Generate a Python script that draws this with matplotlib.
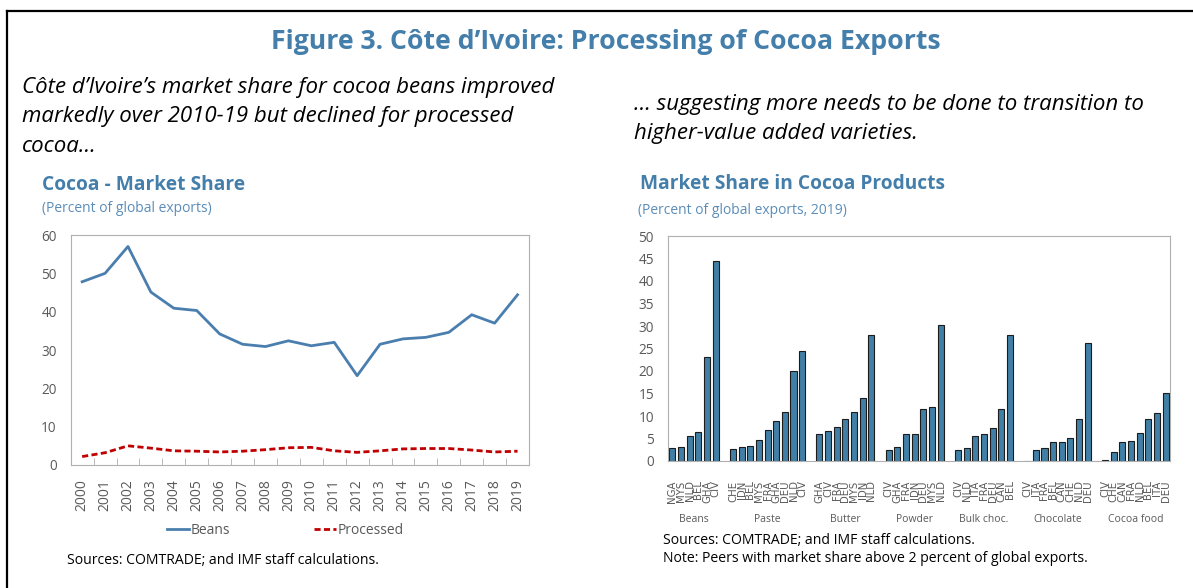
import matplotlib
matplotlib.use("Agg")
import matplotlib.pyplot as plt
from matplotlib.lines import Line2D
import numpy as np

# left panel: Cote d'Ivoire market share, 2000-2019
years = [str(y) for y in range(2000, 2020)]
beans = [47.8, 50.0, 57.0, 45.1, 40.9, 40.3, 34.2, 31.5, 30.9, 32.4,
         31.1, 32.0, 23.3, 31.5, 32.9, 33.3, 34.6, 39.2, 37.0, 44.4]
processed = [2.2, 3.2, 5.0, 4.4, 3.7, 3.6, 3.4, 3.6, 4.0, 4.5,
             4.6, 3.7, 3.3, 3.7, 4.2, 4.3, 4.3, 3.9, 3.4, 3.6]

# right panel: market share by product, 2019
products = ["Beans", "Paste", "Butter", "Powder", "Bulk choc.", "Chocolate", "Cocoa food"]
countries = [
    ["NGA", "MYS", "NLD", "BEL", "GHA", "CIV"],
    ["CHE", "IDN", "BEL", "MYS", "FRA", "GHA", "DEU", "NLD", "CIV"],
    ["GHA", "CIV", "FRA", "DEU", "MYS", "IDN", "NLD"],
    ["CIV", "GHA", "FRA", "IDN", "DEU", "MYS", "NLD"],
    ["CIV", "NLD", "ITA", "FRA", "DEU", "CAN", "BEL"],
    ["CIV", "ITA", "FRA", "BEL", "CAN", "CHE", "NLD", "DEU"],
    ["CIV", "CHE", "CAN", "FRA", "NLD", "BEL", "ITA", "DEU"],
]
shares = [
    [3.0, 3.2, 5.5, 6.5, 23.1, 44.5],
    [2.6, 3.1, 3.3, 4.6, 7.0, 9.0, 10.8, 20.1, 24.4],
    [6.0, 6.6, 7.6, 9.3, 10.9, 13.9, 28.0],
    [2.4, 3.1, 5.9, 6.1, 11.6, 12.0, 30.2],
    [2.4, 3.0, 5.6, 6.1, 7.3, 11.6, 28.1],
    [0.1, 2.5, 2.8, 4.2, 4.3, 5.1, 9.4, 26.3],
    [0.15, 2.1, 4.2, 4.4, 6.3, 9.4, 10.7, 15.2],
]

W, H = 1193, 588
BLUE = "#447EAA"
LIGHTBLUE = "#5B8DB8"
GREY = "#595959"
SPINE = "#B0B0B0"
FONT = ["Open Sans", "DejaVu Sans"]
NARROW = ["Liberation Sans Narrow", "DejaVu Sans"]

plt.rcParams["font.family"] = FONT


def px(x, y):
    return x / W, 1 - y / H


def box(l, t, r, b):
    return [l / W, 1 - b / H, (r - l) / W, (b - t) / H]


fig = plt.figure(figsize=(W / 100, H / 100), dpi=100)

# frame
fig.add_artist(Line2D([7 / W, 1], [1 - 11 / H] * 2, color="black", lw=1.6))
fig.add_artist(Line2D([7 / W] * 2, [0, 1 - 11 / H], color="black", lw=1.6))

fig.text(*px(606, 42), "Figure 3. Côte d\u2019Ivoire: Processing of Cocoa Exports",
         ha="center", va="center", fontsize=19.2, fontweight="bold", color=BLUE)

fig.text(*px(22, 77), "Côte d\u2019Ivoire\u2019s market share for cocoa beans improved\n"
         "markedly over 2010-19 but declined for processed\ncocoa\u2026",
         ha="left", va="top", fontsize=16, style="italic", color="black", linespacing=1.53)
fig.text(*px(634, 94), "\u2026 suggesting more needs to be done to transition to\n"
         "higher-value added varieties.",
         ha="left", va="top", fontsize=16, style="italic", color="black", linespacing=1.53)

fig.text(*px(42, 185), "Cocoa - Market Share", ha="left", va="center",
         fontsize=13.8, fontweight="bold", color=BLUE)
fig.text(*px(42, 209), "(Percent of global exports)", ha="left", va="center",
         fontsize=10, color=LIGHTBLUE)
fig.text(*px(640, 184), "Market Share in Cocoa Products", ha="left", va="center",
         fontsize=13.8, fontweight="bold", color=BLUE)
fig.text(*px(638, 211), "(Percent of global exports, 2019)", ha="left", va="center",
         fontsize=10, color=LIGHTBLUE)

# ---- left chart
ax1 = fig.add_axes(box(70.7, 235, 529, 465))
x = np.arange(len(years))
ax1.plot(x, beans, color="#4A7EAE", lw=2.0, label="Beans")
ax1.plot(x, processed, color="#C00000", lw=2.0, ls=(0, (2.2, 1.2)), label="Processed")
ax1.set_xlim(-0.5, len(years) - 0.5)
ax1.set_ylim(0, 60)
ax1.set_yticks(range(0, 61, 10))
ax1.set_xticks(x)
ax1.set_xticklabels(years, rotation=90)
ax1.set_xticks(np.arange(-0.5, len(years)), minor=True)
ax1.tick_params(axis="x", which="major", length=0, pad=10, labelsize=10, labelcolor=GREY)
ax1.tick_params(axis="x", which="minor", length=5, direction="in", color=SPINE)
ax1.tick_params(axis="y", length=0, pad=10, labelsize=9.8, labelcolor=GREY)
for s in ax1.spines.values():
    s.set_color(SPINE)
ax1.legend(loc="center", bbox_to_anchor=(0.468, -0.283), ncol=2, frameon=False,
           fontsize=10, labelcolor=GREY, handlelength=1.6, handletextpad=0.1,
           columnspacing=6.0)

fig.text(*px(67, 560), "Sources: COMTRADE; and IMF staff calculations.",
         ha="left", va="center", fontsize=10.1, color="black")

# ---- right chart
ax2 = fig.add_axes(box(668, 236, 1170, 461))
pos = []
vals = []
labels = []
centers = []
slot = 0
for grp_c, grp_v in zip(countries, shares):
    start = slot
    for c, v in zip(grp_c, grp_v):
        pos.append(slot)
        vals.append(v)
        labels.append(c)
        slot += 1
    centers.append((start + slot - 1) / 2)
    slot += 1
nslots = slot - 1
ax2.bar(pos, vals, width=0.7, color="#417FA6", edgecolor="#1C1C1C", linewidth=0.8)
ax2.set_xlim(-0.5, nslots - 0.5)
ax2.set_ylim(0, 50)
ax2.set_yticks(range(0, 51, 5))
ax2.set_xticks(pos)
ax2.set_xticklabels(labels, rotation=90, family=NARROW)
ax2.tick_params(axis="x", length=0, pad=14, labelsize=7.3, labelcolor=GREY)
ax2.tick_params(axis="y", length=0, pad=10, labelsize=9.8, labelcolor=GREY)
for s in ax2.spines.values():
    s.set_color(SPINE)
for cx, name in zip(centers, products):
    ax2.text(cx, -0.26, name, transform=ax2.get_xaxis_transform(),
             ha="center", va="center", fontsize=7.5, color=GREY)

fig.text(*px(663, 540), "Sources: COMTRADE; and IMF staff calculations.",
         ha="left", va="center", fontsize=10.1, color="black")
fig.text(*px(663, 559), "Note: Peers with market share above 2 percent of global exports.",
         ha="left", va="center", fontsize=10.1, color="black")

fig.savefig("out.png", dpi=100)
